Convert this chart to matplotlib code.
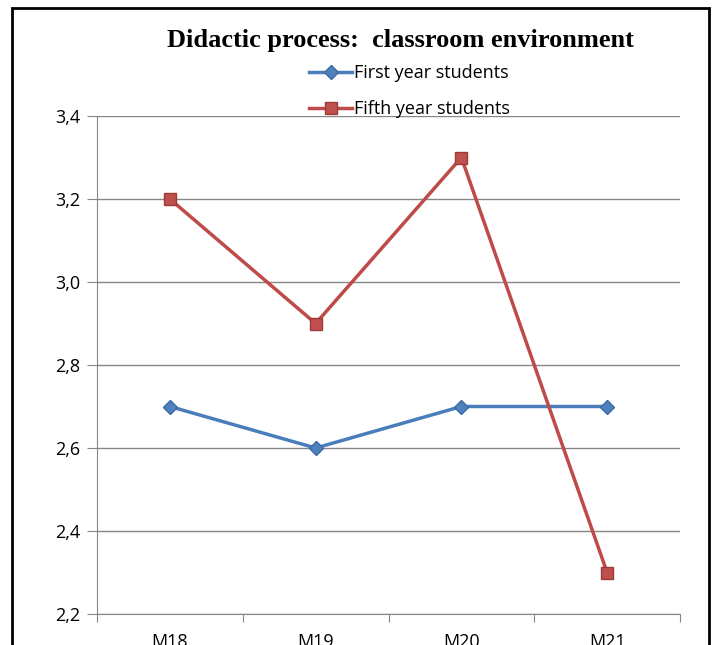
import matplotlib.pyplot as plt
from matplotlib.patches import Rectangle
from matplotlib.ticker import FixedLocator, FuncFormatter

# values
categories = ['M18', 'M19', 'M20', 'M21']
first_year = [2.7, 2.6, 2.7, 2.7]
fifth_year = [3.2, 2.9, 3.3, 2.3]
y_ticks = [2.2, 2.4, 2.6, 2.8, 3.0, 3.2, 3.4]

plt.rcParams['font.family'] = ['Liberation Sans Narrow', 'Open Sans', 'DejaVu Sans']

fig = plt.figure(figsize=(7.13, 6.45), dpi=100)
ax = fig.add_axes([97 / 713, 31 / 645, 583 / 713, 498 / 645])

x = list(range(len(categories)))
ax.plot(x, first_year, color='#4A7EBB', lw=2.5, marker='D', ms=7,
        mfc='#4F81BD', mec='#3B6BA5', label='First year students', zorder=3)
ax.plot(x, fifth_year, color='#BE4B48', lw=2.5, marker='s', ms=9,
        mfc='#C0504D', mec='#9C3B38', label='Fifth year students', zorder=3)

ax.set_xlim(-0.5, len(categories) - 0.5)
ax.set_ylim(2.2, 3.4)
ax.set_yticks(y_ticks)
ax.yaxis.set_major_formatter(FuncFormatter(lambda v, p: f'{v:.1f}'.replace('.', ',')))
ax.grid(axis='y', color='#868686', lw=1)
ax.set_axisbelow(True)

# category boundaries as major ticks, labels at centres
ax.xaxis.set_major_locator(FixedLocator([i - 0.5 for i in range(len(categories) + 1)]))
ax.xaxis.set_minor_locator(FixedLocator(x))
ax.set_xticklabels([], minor=False)
ax.set_xticklabels(categories, minor=True)
ax.tick_params(axis='x', which='major', length=6, color='#868686', direction='out')
ax.tick_params(axis='x', which='minor', length=0, pad=14, labelsize=13)
ax.tick_params(axis='y', length=7, color='#868686', labelsize=13, pad=5)

for side in ['top', 'right']:
    ax.spines[side].set_visible(False)
for side in ['left', 'bottom']:
    ax.spines[side].set_color('#868686')

fig.text(400 / 713, 1 - 40 / 645, 'Didactic process:  classroom environment',
         ha='center', va='center', fontsize=19, fontweight='bold',
         family=['Liberation Serif', 'DejaVu Serif'])

ax.legend(loc='upper left', bbox_to_anchor=(300 / 713, 1 - 55 / 645),
          bbox_transform=fig.transFigure, frameon=False, fontsize=13,
          handlelength=2.4, handletextpad=0.1, labelspacing=1.0, borderpad=0)

# outer frame of the chart box
fig.patches.append(Rectangle((12 / 713, -0.1), 697 / 713, 1.1 - 8 / 645,
                             transform=fig.transFigure, fill=False,
                             edgecolor='black', lw=2, clip_on=False))

fig.savefig('out.png', dpi=100)
